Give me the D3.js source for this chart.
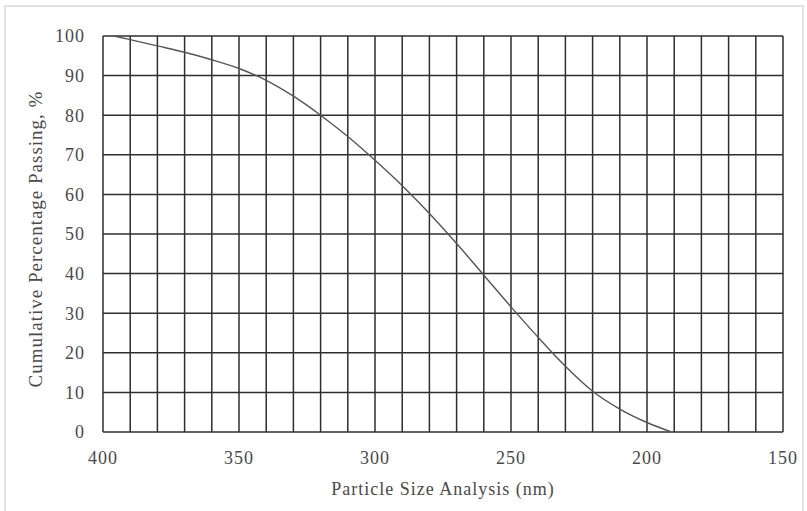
<!DOCTYPE html>
<html>
<head>
<meta charset="utf-8">
<script src="https://cdn.jsdelivr.net/npm/d3@7"></script>
<style>
  body { margin: 0; background: #fff; }
  text { font-family: "Liberation Serif", "Times New Roman", serif; fill: #4a4a4a; }
</style>
</head>
<body>
<svg id="grafico" width="807" height="511"></svg>
<script>
// valori (nm, % passante)
var sizes   = [396, 390, 380, 370, 360, 350, 340, 330, 320, 310, 300, 290, 280, 270, 260, 250, 240, 230, 220, 210, 200, 191];
var passing = [100, 99.1, 97.5, 95.9, 94.0, 91.8, 88.8, 84.8, 80.0, 74.6, 68.6, 62.2, 55.2, 47.6, 39.6, 31.6, 23.9, 16.6, 10.3, 5.8, 2.4, 0];
var xTicks = [400, 350, 300, 250, 200, 150];
var yTicks = [0, 10, 20, 30, 40, 50, 60, 70, 80, 90, 100];
var xGrid = d3.range(150, 401, 10);

var svg = d3.select('#grafico');
var pLeft = 103, pRight = 783, pTop = 36, pBottom = 432;

// cornice grigia chiara
svg.append('rect')
  .attr('x', 5).attr('y', 6).attr('width', 798).attr('height', 510)
  .attr('style', 'fill:none;stroke:#e2e2e2;stroke-width:2');

var x = d3.scaleLinear().domain([400, 150]).range([pLeft, pRight]);
var y = d3.scaleLinear().domain([0, 100]).range([pBottom, pTop]);

// griglia verticale ogni 10 nm
svg.append('g').selectAll('line').data(xGrid).enter().append('line')
  .attr('x1', function (d) { return x(d); })
  .attr('x2', function (d) { return x(d); })
  .attr('y1', pTop).attr('y2', pBottom)
  .attr('style', 'stroke:#2e2e2e;stroke-width:1.5');

// griglia orizzontale
svg.append('g').selectAll('line').data(yTicks).enter().append('line')
  .attr('x1', pLeft).attr('x2', pRight)
  .attr('y1', function (d) { return y(d); })
  .attr('y2', function (d) { return y(d); })
  .attr('style', 'stroke:#2e2e2e;stroke-width:1.5');

// etichette asse y
svg.append('g').selectAll('text').data(yTicks).enter().append('text')
  .attr('x', 85)
  .attr('y', function (d) { return y(d); })
  .attr('dy', '0.35em')
  .attr('text-anchor', 'end')
  .style('font-size', '18px')
  .style('letter-spacing', '1px')
  .text(function (d) { return d; });

// etichette asse x
svg.append('g').selectAll('text').data(xTicks).enter().append('text')
  .attr('x', function (d) { return x(d); })
  .attr('y', 464)
  .attr('text-anchor', 'middle')
  .style('font-size', '18px')
  .style('letter-spacing', '1px')
  .text(function (d) { return d; });

// titoli assi
svg.append('text')
  .attr('x', (pLeft + pRight) / 2).attr('y', 495)
  .attr('text-anchor', 'middle')
  .style('font-size', '18px')
  .style('letter-spacing', '1px')
  .text('Particle Size Analysis (nm)');

svg.append('text')
  .attr('transform', 'translate(42,' + ((pTop + pBottom) / 2 + 5) + ') rotate(-90)')
  .attr('text-anchor', 'middle')
  .style('font-size', '19px')
  .style('letter-spacing', '1px')
  .text('Cumulative Percentage Passing, %');

// curva
var punti = sizes.map(function (s, i) { return [s, passing[i]]; });
var linea = d3.line()
  .x(function (d) { return x(d[0]); })
  .y(function (d) { return y(d[1]); })
  .curve(d3.curveMonotoneX);

svg.append('path')
  .datum(punti)
  .attr('d', linea)
  .attr('style', 'fill:none;stroke:#555;stroke-width:1.4');
</script>
</body>
</html>
